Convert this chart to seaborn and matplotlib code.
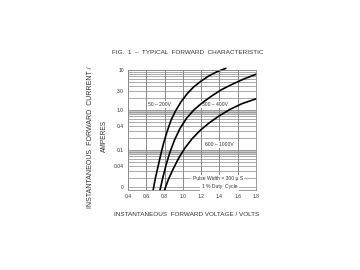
import matplotlib
matplotlib.use("Agg")
import matplotlib.pyplot as plt
import seaborn as sns
import pandas as pd
import numpy as np

# ---- data ----
v_50_200 = [0.675, 0.70, 0.73, 0.76, 0.79, 0.83, 0.87, 0.92, 0.98, 1.05, 1.12, 1.20, 1.28, 1.37, 1.47]
i_50_200 = [0.01, 0.02, 0.04, 0.08, 0.15, 0.30, 0.55, 0.95, 1.6, 2.6, 3.8, 5.3, 7.0, 9.0, 11.0]

v_300_400 = [0.75, 0.78, 0.82, 0.86, 0.91, 0.97, 1.04, 1.12, 1.21, 1.31, 1.42, 1.54, 1.67, 1.80]
i_300_400 = [0.01, 0.02, 0.045, 0.09, 0.18, 0.35, 0.62, 1.0, 1.5, 2.2, 3.2, 4.4, 6.0, 7.8]

v_600_1000 = [0.80, 0.84, 0.89, 0.95, 1.02, 1.10, 1.19, 1.29, 1.40, 1.52, 1.65, 1.80]
i_600_1000 = [0.01, 0.018, 0.032, 0.06, 0.11, 0.19, 0.31, 0.48, 0.72, 1.05, 1.45, 1.9]

x_ticks = [0.4, 0.6, 0.8, 1.0, 1.2, 1.4, 1.6, 1.8]
x_tick_labels = ["0.4", "0.6", "0.8", "1.0", "1.2", "1.4", "1.6", "1.8"]
y_ticks = [10, 3, 1, 0.4, 0.1, 0.04, 0.012]
y_tick_labels = ["10", "3.0", "1.0", "0.4", "0.1", "0.04", "0"]

series_labels = ["50 – 200V", "300 – 400V", "600 – 1000V"]

df = pd.concat([
    pd.DataFrame({"V": v_50_200, "I": i_50_200, "s": series_labels[0]}),
    pd.DataFrame({"V": v_300_400, "I": i_300_400, "s": series_labels[1]}),
    pd.DataFrame({"V": v_600_1000, "I": i_600_1000, "s": series_labels[2]}),
])

sns.set_style("white")
plt.rcParams["font.family"] = ["Liberation Sans", "DejaVu Sans"]

fig = plt.figure(figsize=(3.6, 2.7), dpi=100)
ax = fig.add_axes([128/360, 1-190/270, 128/360, 120/270])

ax.set_yscale("log")
ax.set_xlim(0.4, 1.8)
ax.set_ylim(0.01, 10)

# grid
for yv in [1.0, 0.1]:
    ax.axhspan(yv*0.78, yv, color="#c8c8c8", lw=0, zorder=0)
ax.grid(which="major", axis="x", color="#8a8a8a", lw=0.7)
ax.grid(which="both", axis="y", color="#8a8a8a", lw=0.5)
ax.yaxis.set_minor_locator(matplotlib.ticker.LogLocator(base=10, subs=np.arange(2, 10)))

sns.lineplot(data=df, x="V", y="I", hue="s", palette=["black"]*3, legend=False,
             lw=1.2, ax=ax, sort=False, estimator=None)
for ln in ax.get_lines():
    ln.set_clip_on(False)

ax.set_xticks(x_ticks)
ax.set_xticklabels(x_tick_labels)
ax.set_yticks(y_ticks)
ax.set_yticklabels(y_tick_labels)
ax.yaxis.set_minor_formatter(matplotlib.ticker.NullFormatter())
ax.tick_params(which="both", length=0, labelsize=3.6, colors="#333333", pad=3)

for sp in ax.spines.values():
    sp.set_color("#8a8a8a")
    sp.set_linewidth(0.6)

ax.set_xlabel("")
ax.set_ylabel("")

box = dict(facecolor="white", edgecolor="none", pad=0.6)
ax.text(0.75, 1.4, series_labels[0], fontsize=3.6, ha="center", va="center", bbox=box, color="#333333")
ax.text(1.35, 1.4, series_labels[1], fontsize=3.6, ha="center", va="center", bbox=box, color="#333333", zorder=1)
ax.text(1.40, 0.14, series_labels[2], fontsize=3.6, ha="center", va="center", bbox=box, color="#333333")
ax.text(1.38, 0.019, "Pulse Width = 300 μ S", fontsize=3.6, ha="center", va="center", color="#333333",
        bbox=dict(facecolor="white", edgecolor="none", pad=1.0))
ax.text(1.40, 0.012, "1 % Duty  Cycle", fontsize=3.6, ha="center", va="center", color="#333333",
        bbox=dict(facecolor="white", edgecolor="none", pad=1.0))

fig.text(188/360, 1-52/270, "FIG.  1  –  TYPICAL  FORWARD  CHARACTERISTIC", fontsize=4.6,
         ha="center", va="center", color="#333333")
fig.text(187/360, 1-215/270, "INSTANTANEOUS  FORWARD VOLTAGE / VOLTS", fontsize=4.6,
         ha="center", va="center", color="#333333")
fig.text(91/360, 1-137/270, "INSTANTANEOUS  FORWARD  CURRENT /", fontsize=5.0, rotation=90,
         ha="center", va="center", color="#333333")
fig.text(104/360, 1-136/270, "AMPERES", fontsize=4.8, rotation=90,
         ha="center", va="center", color="#333333")

fig.savefig("out.png", dpi=100, facecolor="white")
